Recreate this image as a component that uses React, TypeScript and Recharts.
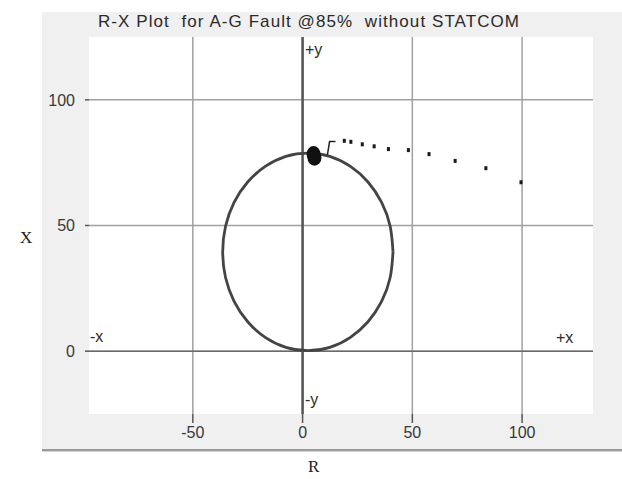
import { ScatterChart, Scatter, XAxis, YAxis, CartesianGrid, ReferenceLine } from 'recharts';

const title = 'R-X Plot  for A-G Fault @85%  without STATCOM';
const xTicks = [-50, 0, 50, 100];
const yTicks = [0, 50, 100];

const circle = [
    { r: 41.2, x: 39.5 }, { r: 39.9, x: 49.7 }, { r: 36.0, x: 59.2 }, { r: 29.8, x: 67.3 },
    { r: 21.8, x: 73.5 }, { r: 12.4, x: 77.5 }, { r: 2.4, x: 78.8 }, { r: -7.6, x: 77.5 },
    { r: -17.0, x: 73.5 }, { r: -25.0, x: 67.3 }, { r: -31.2, x: 59.2 }, { r: -35.1, x: 49.7 },
    { r: -36.4, x: 39.5 }, { r: -35.1, x: 29.3 }, { r: -31.2, x: 19.8 }, { r: -25.0, x: 11.7 },
    { r: -17.0, x: 5.5 }, { r: -7.6, x: 1.5 }, { r: 2.4, x: 0.2 }, { r: 12.4, x: 1.5 },
    { r: 21.8, x: 5.5 }, { r: 29.8, x: 11.7 }, { r: 36.0, x: 19.8 }, { r: 39.9, x: 29.3 },
    { r: 41.2, x: 39.5 },
];

// apparent impedance samples after the fault
const trajectory = [
    { r: 99.5, x: 67.2 }, { r: 83.5, x: 72.8 }, { r: 69.5, x: 75.7 }, { r: 57.6, x: 78.4 },
    { r: 48.2, x: 80.0 }, { r: 39.1, x: 80.4 }, { r: 32.6, x: 81.5 }, { r: 27.2, x: 82.3 },
    { r: 22.0, x: 83.3 }, { r: 19.0, x: 83.7 },
];

// short hook before it settles
const hook = [{ r: 11.3, x: 78.1 }, { r: 12.3, x: 83.4 }, { r: 15.0, x: 83.4 }];

// settled cluster
const settle = [{ r: 5.0, x: 78.4 }, { r: 5.4, x: 77.0 }];

const tickFont = { fill: '#383838', fontSize: 16, fontFamily: 'Liberation Sans, Arial, sans-serif' };
const labelFont = { fill: '#2a2a2a', fontSize: 16, fontFamily: 'Liberation Sans, Arial, sans-serif' };

const Nothing = () => <g />;
const Dot = (p: any) => <rect x={p.cx - 1.5} y={p.cy - 2} width={3} height={4} fill="#1a1a1a" />;
const Blob = (p: any) => <ellipse cx={p.cx} cy={p.cy} rx={7} ry={8} fill="#111" />;

const App = () => {
    return (
        <div style={{ position: 'absolute', left: 0, top: 0, width: 622, height: 479, background: '#fff', overflow: 'hidden' }}>
            <div style={{ position: 'absolute', left: 42, top: 12, width: 580, height: 438, background: '#f0f0f0' }} />
            <div style={{ position: 'absolute', left: 42, top: 449, width: 580, height: 2, background: '#9c9c9c' }} />
            <div style={{ position: 'absolute', left: 42, top: 451, width: 580, height: 1, background: '#d4d4d4' }} />

            <div style={{ position: 'absolute', left: 0, top: 0 }}>
                <ScatterChart width={622} height={479} margin={{ top: 37, right: 29, bottom: 35, left: 39 }}>
                    <CartesianGrid
                        fill="#fff"
                        stroke="#a0a0a0"
                        strokeWidth={1.5}
                        verticalValues={xTicks}
                        horizontalValues={yTicks}
                    />
                    <XAxis
                        type="number"
                        dataKey="r"
                        domain={[-97.3, 132.3]}
                        ticks={xTicks}
                        interval={0}
                        allowDataOverflow
                        height={30}
                        axisLine={false}
                        tickSize={9}
                        tickMargin={4}
                        tickLine={{ stroke: '#555', strokeWidth: 1.5 }}
                        tick={tickFont}
                    />
                    <YAxis
                        type="number"
                        dataKey="x"
                        domain={[-25, 125]}
                        ticks={yTicks}
                        interval={0}
                        allowDataOverflow
                        width={50}
                        axisLine={false}
                        tickSize={4}
                        tickMargin={10}
                        tickLine={{ stroke: '#555', strokeWidth: 1.5 }}
                        tick={tickFont}
                    />
                    <ReferenceLine x={0} stroke="#555" strokeWidth={2.5} />
                    <ReferenceLine y={0} stroke="#6a6a6a" strokeWidth={1.5} />
                    <Scatter
                        data={circle}
                        line={{ stroke: '#444', strokeWidth: 2.8 }}
                        lineJointType="natural"
                        shape={Nothing}
                        isAnimationActive={false}
                    />
                    <Scatter
                        data={hook}
                        line={{ stroke: '#222', strokeWidth: 1.5 }}
                        shape={Nothing}
                        isAnimationActive={false}
                    />
                    <Scatter data={trajectory} shape={Dot} isAnimationActive={false} />
                    <Scatter data={settle} shape={Blob} isAnimationActive={false} />
                </ScatterChart>
            </div>

            <svg width={622} height={479} style={{ position: 'absolute', left: 0, top: 0, pointerEvents: 'none' }}>
                <text x={98} y={27} textLength={421} lengthAdjust="spacing" style={{ whiteSpace: 'pre' }} {...labelFont} fontSize={17}>
                    {title}
                </text>
                <text x={305} y={55} {...labelFont}>+y</text>
                <text x={305} y={405} {...labelFont}>-y</text>
                <text x={90} y={342} {...labelFont}>-x</text>
                <text x={556} y={343} {...labelFont}>+x</text>
                <text x={20} y={243} fill="#222" fontSize={17} fontFamily="Liberation Serif, serif">X</text>
                <text x={308} y={472} fill="#222" fontSize={17} fontFamily="Liberation Serif, serif">R</text>
            </svg>
        </div>
    );
};

export default App;
